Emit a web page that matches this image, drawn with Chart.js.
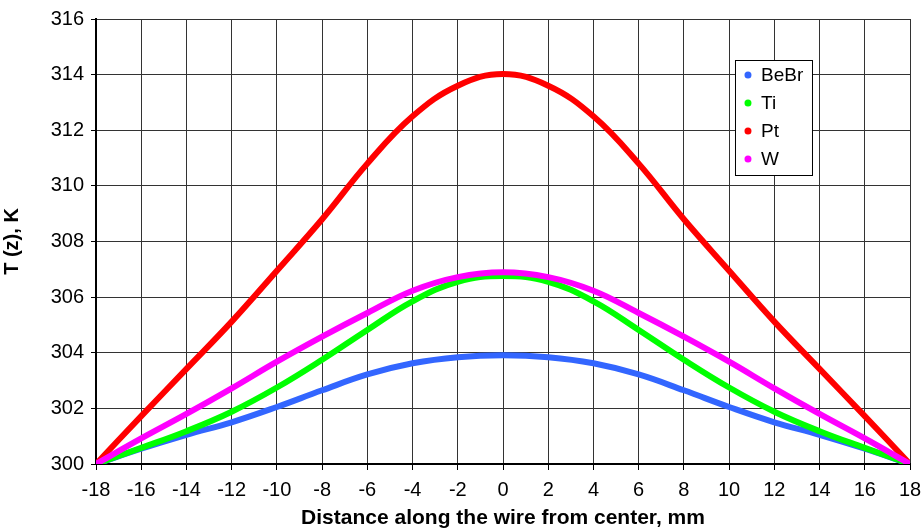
<!DOCTYPE html>
<html>
<head>
<meta charset="utf-8">
<script src="https://cdn.jsdelivr.net/npm/chart.js@4"></script>
<style>
  html, body { margin: 0; padding: 0; background: #fff; }
  #wrap { width: 924px; height: 531px; }
</style>
</head>
<body>
<div id="wrap"><canvas id="tempChart" width="924" height="531"></canvas></div>
<script>
// distance along the wire, mm
const zValues = [-18, -16, -14, -12, -10, -8, -6, -4, -2, 0, 2, 4, 6, 8, 10, 12, 14, 16, 18];

// temperature profiles, K
const bebr = [300, 300.55, 301.05, 301.5, 302.05, 302.65, 303.22, 303.62, 303.84, 303.91,
              303.84, 303.62, 303.22, 302.65, 302.05, 301.5, 301.05, 300.55, 300];
const ti   = [300, 300.58, 301.18, 301.88, 302.75, 303.75, 304.82, 305.85, 306.55, 306.76,
              306.55, 305.85, 304.82, 303.75, 302.75, 301.88, 301.18, 300.58, 300];
const pt   = [300, 301.72, 303.42, 305.12, 306.95, 308.8, 310.8, 312.5, 313.6, 314.02,
              313.6, 312.5, 310.8, 308.8, 306.95, 305.12, 303.42, 301.72, 300];
const w    = [300, 300.92, 301.8, 302.72, 303.68, 304.58, 305.43, 306.23, 306.72, 306.89,
              306.72, 306.23, 305.43, 304.58, 303.68, 302.72, 301.8, 300.92, 300];

const seriesNames = ['BeBr', 'Ti', 'Pt', 'W'];
const seriesColors = ['#3366FF', '#00FF00', '#FF0000', '#FF00FF'];

const toPoints = arr => arr.map((t, i) => ({ x: zValues[i], y: t }));

// legend box drawn inside the plot, upper right
const boxLegend = {
    id: 'boxLegend',
    afterDraw(chart) {
        const ctx = chart.ctx;
        const a = chart.chartArea;
        const left = a.left + (a.right - a.left) * 0.785;
        const top = a.top + 41;
        const w = 77, h = 115;
        ctx.save();
        ctx.fillStyle = '#fff';
        ctx.fillRect(left, top, w, h);
        ctx.strokeStyle = '#000';
        ctx.lineWidth = 1;
        ctx.strokeRect(left + 0.5, top + 0.5, w, h);
        ctx.font = '19px "Liberation Sans", Arial, sans-serif';
        ctx.textBaseline = 'middle';
        seriesNames.forEach((name, i) => {
            const y = top + 15 + i * 28;
            ctx.fillStyle = seriesColors[i];
            ctx.beginPath();
            ctx.arc(left + 13, y, 3.5, 0, Math.PI * 2);
            ctx.fill();
            ctx.fillStyle = '#000';
            ctx.fillText(name, left + 26, y + 1);
        });
        ctx.restore();
    }
};

const ctx = document.getElementById('tempChart').getContext('2d');
new Chart(ctx, {
    type: 'scatter',
    data: {
        datasets: [bebr, ti, pt, w].map((arr, i) => ({
            label: seriesNames[i],
            data: toPoints(arr),
            showLine: true,
            borderColor: seriesColors[i],
            backgroundColor: seriesColors[i],
            borderWidth: 6,
            pointRadius: 0,
            tension: 0.4,
            order: 3 - i
        }))
    },
    options: {
        responsive: false,
        animation: false,
        layout: { padding: { top: 19, right: 14, left: 0, bottom: 0 } },
        plugins: {
            legend: { display: false },
            tooltip: { enabled: false }
        },
        scales: {
            x: {
                type: 'linear',
                min: -18,
                max: 18,
                ticks: {
                    stepSize: 2,
                    color: '#000',
                    padding: 8,
                    font: { family: '"Liberation Sans", Arial', size: 20 }
                },
                grid: { color: '#333', lineWidth: 1, tickLength: 6, tickColor: '#000' },
                border: { color: '#000', width: 2 },
                title: {
                    display: true,
                    text: 'Distance along the wire from center, mm',
                    color: '#000',
                    padding: { top: 0, bottom: 0 },
                    font: { family: '"Liberation Sans", Arial', size: 21, weight: 'bold' }
                },
                afterFit(scale) {
                    scale.height = 67;
                    scale.paddingLeft = 0;
                    scale.paddingRight = 0;
                }
            },
            y: {
                min: 300,
                max: 316,
                ticks: {
                    stepSize: 2,
                    color: '#000',
                    padding: 7,
                    font: { family: '"Liberation Sans", Arial', size: 20 }
                },
                grid: { color: '#333', lineWidth: 1, tickLength: 5, tickColor: '#000' },
                border: { color: '#000', width: 2 },
                title: {
                    display: true,
                    text: 'T (z), K',
                    color: '#000',
                    padding: { top: 0, bottom: 0 },
                    font: { family: '"Liberation Sans", Arial', size: 20, weight: 'bold' }
                },
                afterFit(scale) {
                    scale.width = 96;
                    scale.paddingTop = 0;
                    scale.paddingBottom = 0;
                }
            }
        }
    },
    plugins: [boxLegend]
});
</script>
</body>
</html>
